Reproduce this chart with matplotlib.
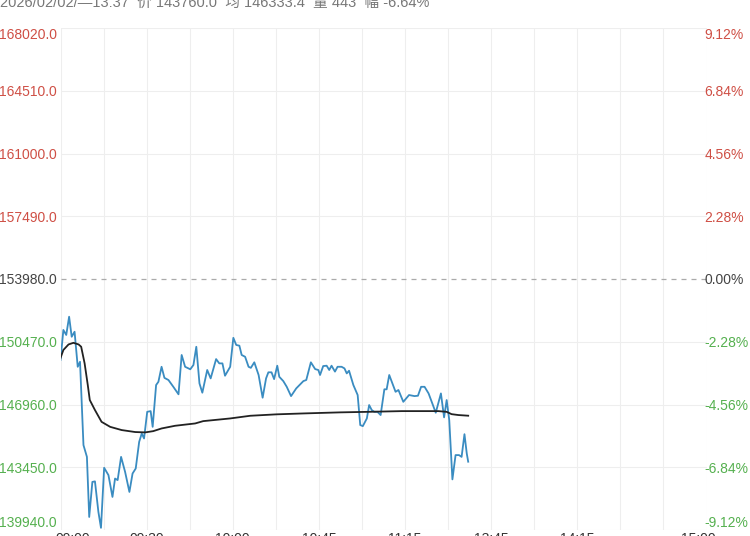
import numpy as np
import matplotlib.pyplot as plt
from matplotlib.transforms import ScaledTranslation

plt.rcParams['font.family'] = ['Liberation Sans', 'Noto Sans CJK SC', 'DejaVu Sans']

# 分时数据: 横轴为交易分钟序号 (0 = 09:00, 75 = 10:30, 135 = 13:30, 225 = 15:00)
price_t = [0, 1.0, 2.0, 3.0, 3.9, 4.9, 6.0, 6.8, 8.0, 9.2, 10.0, 11.1, 12.0, 13.2, 14.1,
           15.2, 16.7, 18.1, 19.0, 19.9, 21.1, 22.5, 24.0, 25.1, 26.2, 27.4, 28.3, 29.1,
           30.2, 31.4, 32.1, 33.3, 34.1, 35.2, 36.2, 37.6, 39.3, 41.1, 42.2, 43.4, 45.2,
           46.3, 47.3, 48.4, 49.4, 51.1, 52.3, 54.2, 55.3, 56.4, 57.3, 59.1, 60.2, 61.2,
           62.3, 63.1, 64.3, 65.5, 66.3, 67.5, 69.0, 70.4, 71.6, 72.4, 73.5, 74.4, 75.5,
           76.2, 77.6, 78.8, 80.3, 82.1, 83.5, 84.6, 85.6, 87.2, 88.7, 89.8, 90.4, 91.5,
           92.7, 93.6, 94.4, 95.6, 96.5, 97.9, 98.9, 99.7, 100.5, 102.0, 103.5, 104.4,
           105.3, 106.7, 107.5, 108.4, 109.3, 110.4, 111.5, 112.8, 113.6, 114.5, 115.6,
           116.7, 117.7, 119.4, 121.4, 123.3, 124.5, 125.6, 126.8, 128.2, 129.5, 130.7,
           132.5, 133.6, 134.5, 135.4, 136.5, 137.6, 138.8, 139.7, 140.7, 141.5, 142.0]
price_v = [149450, 151130, 150850, 151870, 150750, 151030, 149070, 149350, 144690, 144030,
           140670, 142630, 142660, 140950, 140060, 143420, 143010, 141790, 142820, 142730,
           144030, 143190, 142070, 143100, 143380, 144870, 145340, 145060, 146550, 146590,
           145710, 148050, 148230, 149070, 148450, 148330, 147950, 147530, 149730, 149070,
           148930, 149170, 150190, 148140, 147620, 148890, 148420, 149500, 149260, 149260,
           148570, 149070, 150690, 150290, 150250, 149730, 149630, 149070, 149010, 149320,
           148610, 147340, 148420, 148760, 148760, 148380, 149130, 148510, 148270, 147950,
           147430, 147860, 148090, 148270, 148330, 149320, 148940, 148890, 148610, 149110,
           149130, 148890, 149130, 148800, 149070, 149070, 148980, 148700, 148850, 148050,
           147490, 145810, 145750, 146180, 146930, 146650, 146550, 146550, 146370, 147810,
           147810, 148610, 148140, 147670, 147770, 147110, 147490, 147430, 147450, 147950,
           147950, 147580, 147020, 146500, 147580, 146240, 147210, 146090, 142770, 144130,
           144130, 144030, 145300, 144220, 143760]

avg_t = [0, 1.0, 2.8, 4.5, 6.3, 7.2, 8.4, 9.5, 10.2, 12.0, 14.3, 17.3, 21.3, 26.0, 29.5,
         32.3, 35.2, 39.9, 46.9, 49.7, 59.1, 66.1, 75.3, 84.6, 97.4, 107.3, 118.9, 131.6,
         134.5, 136.2, 138.6, 142.0]
avg_v = [149560, 150010, 150320, 150410, 150320, 150190, 149260, 148050, 147210, 146650,
         145990, 145710, 145530, 145420, 145400, 145470, 145620, 145770, 145900, 146030,
         146180, 146330, 146410, 146460, 146520, 146550, 146590, 146590, 146550, 146420,
         146370, 146333.4]

pre_close = 153980.0
y_ticks = [139940, 143450, 146960, 150470, 153980, 157490, 161000, 164510, 168020]
pct_labels = ['-9.12%', '-6.84%', '-4.56%', '-2.28%', '0.00%', '2.28%', '4.56%', '6.84%', '9.12%']
x_ticks = [0, 30, 60, 90, 120, 150, 180, 225]
x_labels = ['09:00', '09:30', '10:00', '10:45', '11:15', '13:45', '14:15', '15:00']
info = '2026/02/02/—13:37  价 143760.0  均 146333.4  量 443  幅 -6.64%'

red = '#cf4f45'
green = '#55b04f'
flat = '#444444'


def label_color(v):  # 涨红跌绿
    if v > pre_close:
        return red
    if v < pre_close:
        return green
    return flat


fig = plt.figure(figsize=(7.5, 5.36), dpi=100)
ax = fig.add_axes([60.5 / 750, 6 / 536, 646 / 750, 502 / 536])
ax.set_xlim(0, 225)
ax.set_ylim(y_ticks[0], y_ticks[-1])

# 网格
for xv in range(0, 226, 15):
    ax.axvline(xv, color='#eeeeee', lw=0.8, zorder=0)
for yv in y_ticks:
    if yv == pre_close:
        ax.axhline(yv, color='#aaaaaa', lw=0.9, dashes=(4, 4), zorder=1)
    else:
        ax.axhline(yv, color='#eeeeee', lw=0.8, zorder=0)

# 价格线和均价线
ax.plot(price_t, price_v, color='#3a8cc1', lw=1.3, zorder=3)
ax.plot(avg_t, avg_v, color='#222222', lw=1.3, zorder=4)

for s in ax.spines.values():
    s.set_visible(False)

ax.set_yticks(y_ticks)
ax.set_yticklabels(['%.1f' % v for v in y_ticks])
ax.tick_params(axis='y', length=0, pad=2.5, labelsize=10)
for lab, v in zip(ax.get_yticklabels(), y_ticks):
    lab.set_color(label_color(v))
ax.get_yticklabels()[0].set_va('bottom')
ax.get_yticklabels()[-1].set_va('top')

ax2 = ax.twinx()
ax2.set_ylim(ax.get_ylim())
ax2.set_yticks(y_ticks)
ax2.set_yticklabels(pct_labels)
ax2.tick_params(axis='y', length=0, pad=-1.5, labelsize=10)
for s in ax2.spines.values():
    s.set_visible(False)
for lab, v in zip(ax2.get_yticklabels(), y_ticks):
    lab.set_color(label_color(v))
ax2.get_yticklabels()[0].set_va('bottom')
ax2.get_yticklabels()[-1].set_va('top')

ax.set_xticks(x_ticks)
ax.set_xticklabels(x_labels)
ax.tick_params(axis='x', length=0, pad=1.5, labelsize=10, labelcolor='#333333')
xl = ax.get_xticklabels()
xl[0].set_transform(xl[0].get_transform() + ScaledTranslation(12 / 100, 0, fig.dpi_scale_trans))
xl[-1].set_transform(xl[-1].get_transform() + ScaledTranslation(-8 / 100, 0, fig.dpi_scale_trans))

# 顶部信息栏
fig.text(0.0, 1 - 3 / 536, info, ha='left', va='center', fontsize=10.5, color='#777777')

fig.savefig('out.png', dpi=100)
